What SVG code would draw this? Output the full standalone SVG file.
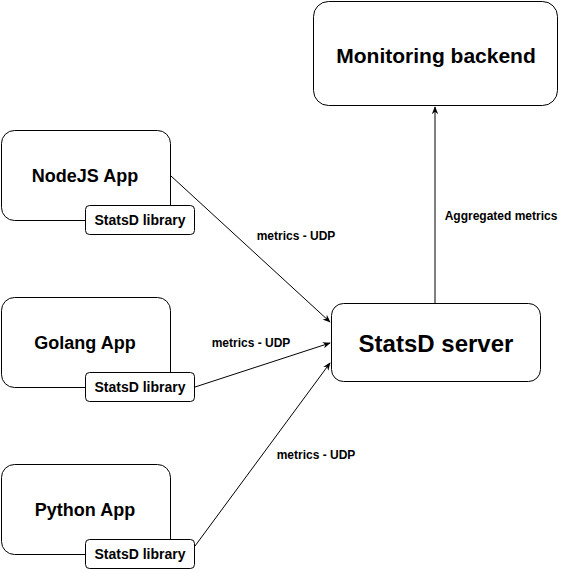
<svg xmlns="http://www.w3.org/2000/svg" width="561" height="570" viewBox="0 0 561 570">
<style>
.box{fill:#fff;stroke:#000;stroke-width:1}
.t{font-family:"Liberation Sans",Arial,sans-serif;font-weight:bold;fill:#000;text-anchor:middle;dominant-baseline:central}
.app{font-size:18px}
.lib{font-size:14px}
.lbl{font-size:12px}
.edge{fill:none;stroke:#000;stroke-width:1}
</style>
<defs>
<marker id="arr" viewBox="0 0 10 10" refX="9" refY="5" markerWidth="8" markerHeight="8" markerUnits="userSpaceOnUse" orient="auto">
<path d="M0,1 L10,5 L0,9 L3,5 Z" fill="#000"/>
</marker>
</defs>
<rect width="561" height="570" fill="#fff"/>
<g id="connectors">
<path class="edge" d="M171,176 L330,322" marker-end="url(#arr)"/>
<path class="edge" d="M195,387 L330,343" marker-end="url(#arr)"/>
<path class="edge" d="M195,546 L330,363" marker-end="url(#arr)"/>
<path class="edge" d="M435,303 L435,107" marker-end="url(#arr)"/>
<text class="t lbl" x="296" y="236">metrics - UDP</text>
<text class="t lbl" x="251" y="343">metrics - UDP</text>
<text class="t lbl" x="316" y="455">metrics - UDP</text>
<text class="t lbl" x="501" y="216">Aggregated metrics</text>
</g>
<g id="monitoring">
<rect class="box" x="313.5" y="1.5" width="244" height="104" rx="15"/>
<text class="t" style="font-size:21px" x="436" y="55">Monitoring backend</text>
</g>
<g id="statsd">
<rect class="box" x="331.5" y="303.5" width="209" height="78" rx="12"/>
<text class="t" style="font-size:24px" x="436" y="343">StatsD server</text>
</g>
<g id="nodejs">
<rect class="box" x="1.5" y="130.5" width="169" height="90" rx="13"/>
<text class="t app" x="85" y="176">NodeJS App</text>
</g>
<g id="nodejs-lib">
<rect class="box" x="85.5" y="205.5" width="109" height="29" rx="4"/>
<text class="t lib" x="140" y="220">StatsD library</text>
</g>
<g id="golang">
<rect class="box" x="1.5" y="297.5" width="169" height="90" rx="13"/>
<text class="t app" x="85" y="343">Golang App</text>
</g>
<g id="golang-lib">
<rect class="box" x="85.5" y="372.5" width="109" height="29" rx="4"/>
<text class="t lib" x="140" y="387">StatsD library</text>
</g>
<g id="python">
<rect class="box" x="1.5" y="464.5" width="169" height="90" rx="13"/>
<text class="t app" x="85" y="510">Python App</text>
</g>
<g id="python-lib">
<rect class="box" x="85.5" y="539.5" width="109" height="29" rx="4"/>
<text class="t lib" x="140" y="554">StatsD library</text>
</g>
</svg>
